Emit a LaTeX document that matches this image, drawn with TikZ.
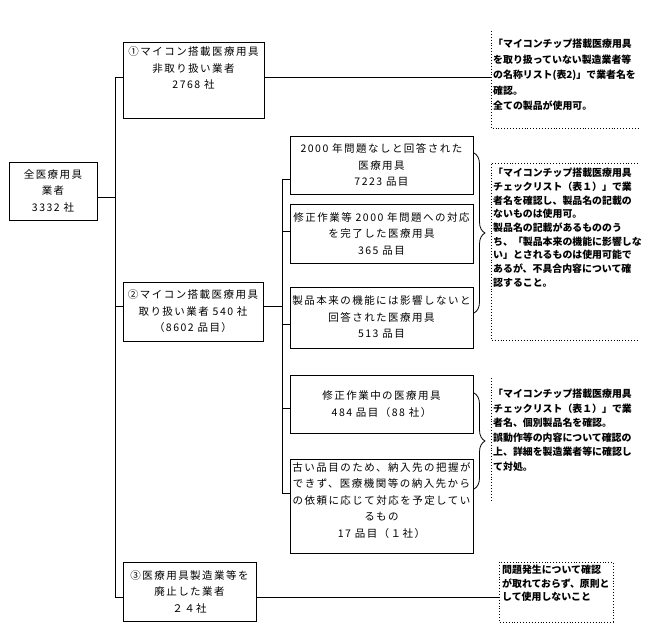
\documentclass[tikz,border=0pt]{standalone}
\usepackage{fontspec}
\setmainfont{Noto Sans CJK JP}
\newfontfamily\boxfont[LetterSpace=14]{Noto Sans CJK JP}
\usetikzlibrary{decorations.pathreplacing}
\tikzset{
  unit/.style={draw, line width=0.9pt, inner sep=0pt, align=center,
    font=\boxfont\fontsize{10.5}{16.5}\selectfont},
  memo/.style={inner sep=0pt, anchor=north west, align=left,
    font=\fontsize{9.9}{#1}\selectfont\bfseries},
  memo/.default=14,
  link/.style={line width=0.9pt},
  frame/.style={dotted, line width=0.9pt},
  curly/.style={line width=0.8pt, decorate, decoration={brace, amplitude=11pt}},
}

\begin{document}
\begin{tikzpicture}[x=1pt, y=-1pt]
  \useasboundingbox (0,0) rectangle (649,639);

  \node[unit, minimum width=88pt, minimum height=58pt] (root) at (53,191) {全医療用具\\業者\\3332 社};
  \node[unit, minimum width=141pt, minimum height=76pt] (b1) at (193.5,80) {①マイコン搭載医療用具\\非取り扱い業者\\2768 社\\[8pt]~};
  \node[unit, minimum width=140pt, minimum height=59pt] (b2) at (193,311.5) {②マイコン搭載医療用具\\取り扱い業者 540 社\\（8602 品目）};
  \node[unit, minimum width=133pt, minimum height=59pt] (b3) at (189.5,591.5) {③医療用具製造業等を\\廃止した業者\\２４社};

  \node[unit, minimum width=183pt, minimum height=58pt] (A) at (381.5,165) {2000 年問題なしと回答された\\医療用具\\7223 品目};
  \node[unit, minimum width=183pt, minimum height=59pt] (B) at (381.5,233.5) {修正作業等 2000 年問題への対応\\を完了した医療用具\\365 品目};
  \node[unit, minimum width=183pt, minimum height=61pt] (C) at (381.5,317.5) {製品本来の機能には影響しないと\\回答された医療用具\\513 品目};
  \node[unit, minimum width=183pt, minimum height=58pt] (D) at (381.5,404) {修正作業中の医療用具\\484 品目（88 社）};
  \node[unit, minimum width=183pt, minimum height=94pt] (E) at (381.5,506) {古い品目のため、納入先の把握が\\できず、医療機関等の納入先から\\の依頼に応じて対応を予定してい\\るもの\\17 品目（１社）\\[-4.5pt]~};

  \node[memo=15.5] (n1) at (493,39) {「マイコンチップ搭載医療用具\\を取り扱っていない製造業者等\\の名称リスト(表2)」で業者名を\\確認。\\全ての製品が使用可。};
  \node[memo=13.7] (n2) at (493,168) {「マイコンチップ搭載医療用具\\チェックリスト（表１）」で業\\者名を確認し、製品名の記載の\\ないものは使用可。\\製品名の記載があるもののう\\ち、「製品本来の機能に影響しな\\い」とされるものは使用可能で\\あるが、不具合内容について確\\認すること。};
  \node[memo=14.5] (n3) at (493,389) {「マイコンチップ搭載医療用具\\チェックリスト（表１）」で業\\者名、個別製品名を確認。\\誤動作等の内容について確認の\\上、詳細を製造業者等に確認し\\て対処。};
  \node[memo=13.5] (n4) at (502,565) {問題発生について確認\\が取れておらず、原則と\\して使用しないこと};

  \coordinate (t1) at (115,77);
  \coordinate (t0) at (115,197);
  \coordinate (t2) at (115,306);
  \coordinate (t3) at (115,597);
  \draw[link] (t1) -- (t3);
  \draw[link] (t0) -- (t0 -| root.east);
  \draw[link] (t1) -- (t1 -| b1.west);
  \draw[link] (t2) -- (t2 -| b2.west);
  \draw[link] (t3) -- (t3 -| b3.west);

  \coordinate (fA) at (282,179);
  \coordinate (fB) at (282,231);
  \coordinate (fC) at (282,324);
  \coordinate (fD) at (282,408);
  \coordinate (fE) at (282,493);
  \coordinate (f2) at (282,306);
  \draw[link] (fA) -- (fE);
  \foreach \n in {A,B,C,D,E}
    \draw[link] (f\n) -- (f\n -| \n.west);
  \draw[link] (f2) -- (f2 -| b2.east);

  \coordinate (m1a) at (491,31);
  \coordinate (m1b) at (491,128);
  \coordinate (m1c) at (638,128);
  \coordinate (m2a) at (638,163);
  \coordinate (m2b) at (491,163);
  \coordinate (m2c) at (491,340);
  \coordinate (m2d) at (638,340);
  \coordinate (m3a) at (491,378);
  \coordinate (m3b) at (491,500);
  \coordinate (m4a) at (499,562);
  \coordinate (m4b) at (613,622);
  \draw[frame] (m1a) -- (m1b) -- (m1c);
  \draw[frame] (m2a) -- (m2b) -- (m2c) -- (m2d);
  \draw[frame] (m3a) -- (m3b);
  \draw[frame] (m4a) rectangle (m4b);

  \draw[link] (t1 -| b1.east) -- (t1 -| m1a);
  \draw[link] (t3 -| b3.east) -- (t3 -| m4a);

  \coordinate (c1a) at (474,153);
  \coordinate (c1b) at (474,313);
  \coordinate (c2a) at (474,393);
  \coordinate (c2b) at (474,489);
  \draw[curly] (c1a) -- (c1b);
  \draw[curly] (c2a) -- (c2b);
\end{tikzpicture}
\end{document}
